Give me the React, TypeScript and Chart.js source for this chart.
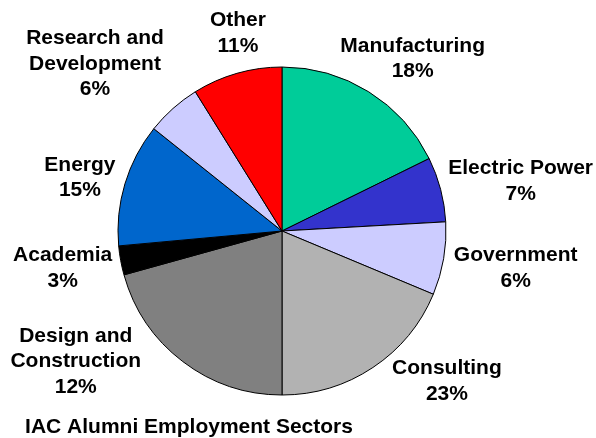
import React, { useEffect, useRef } from "react";
import { Chart, registerables } from "chart.js";

Chart.register(...registerables);

// ---- data ----
const SECTORS = [
  "Manufacturing",
  "Electric Power",
  "Government",
  "Consulting",
  "Design and Construction",
  "Academia",
  "Energy",
  "Research and Development",
  "Other",
];
const LABEL_LINES = [
  ["Manufacturing"],
  ["Electric Power"],
  ["Government"],
  ["Consulting"],
  ["Design and", "Construction"],
  ["Academia"],
  ["Energy"],
  ["Research and", "Development"],
  ["Other"],
];
const PERCENT_LABELS = ["18%", "7%", "6%", "23%", "12%", "3%", "15%", "6%", "11%"];
// slice sizes as drawn in the reference (percent of circle)
const SLICE_VALUES = [17.72, 6.39, 7.19, 18.7, 20.69, 2.86, 12.17, 5.42, 8.86];
const TITLE = "IAC Alumni Employment Sectors";

// ---- styles ----
const COLORS = [
  "#00CC99",
  "#3333CC",
  "#CCCCFF",
  "#B2B2B2",
  "#808080",
  "#000000",
  "#0066CC",
  "#CCCCFF",
  "#FF0000",
];
// label block center offset from the slice's outer mid point
const LABEL_OFFSETS: [number, number][] = [
  [44, -35],
  [80, -10],
  [72, 8],
  [74, 12],
  [-107, -2],
  [-58, 6],
  [-45, -8],
  [-78, -46],
  [1, -42],
];
const FONT = "bold 21px 'Liberation Sans', Arial, sans-serif";
const LINE_PITCH = 25.5;
const CAP_HALF = 7.5;

const labelPlugin = {
  id: "outsideLabels",
  afterDraw(chart: any) {
    const ctx = chart.ctx;
    const meta = chart.getDatasetMeta(0);
    ctx.save();
    ctx.font = FONT;
    ctx.fillStyle = "#000000";
    ctx.textAlign = "center";
    ctx.textBaseline = "alphabetic";
    meta.data.forEach((arc: any, i: number) => {
      const { x, y, startAngle, endAngle, outerRadius } = arc.getProps(
        ["x", "y", "startAngle", "endAngle", "outerRadius"],
        true
      );
      const mid = (startAngle + endAngle) / 2;
      const ax = x + Math.cos(mid) * outerRadius;
      const ay = y + Math.sin(mid) * outerRadius;
      const [ox, oy] = LABEL_OFFSETS[i];
      const cx = ax + ox;
      const cy = ay + oy;
      const lines = [...LABEL_LINES[i], PERCENT_LABELS[i]];
      const n = lines.length;
      lines.forEach((t, k) => {
        const capCenter = cy + (k - (n - 1) / 2) * LINE_PITCH;
        ctx.fillText(t, cx, capCenter + CAP_HALF);
      });
    });
    // title under the pie
    const area = chart.chartArea;
    ctx.fillText(TITLE, area.left + 71, area.bottom + 38);
    ctx.restore();
  },
};

export default function App() {
  const canvasRef = useRef<HTMLCanvasElement | null>(null);

  useEffect(() => {
    const canvas = canvasRef.current;
    if (!canvas) return;
    const chart = new Chart(canvas, {
      type: "pie",
      data: {
        labels: SECTORS,
        datasets: [
          {
            data: SLICE_VALUES,
            backgroundColor: COLORS,
            borderColor: "#000000",
            borderWidth: 1,
            hoverOffset: 0,
          },
        ],
      },
      options: {
        animation: false,
        responsive: true,
        maintainAspectRatio: false,
        radius: 164,
        layout: { padding: { left: 118, top: 67, right: 150, bottom: 43 } },
        plugins: {
          legend: { display: false },
          tooltip: { enabled: false },
          title: { display: false },
        },
        events: [],
      } as any,
      plugins: [labelPlugin],
    });
    return () => chart.destroy();
  }, []);

  return (
    <div
      style={{
        position: "fixed",
        left: 0,
        top: 0,
        width: 596,
        height: 438,
        background: "#ffffff",
      }}
    >
      <canvas ref={canvasRef} />
    </div>
  );
}
